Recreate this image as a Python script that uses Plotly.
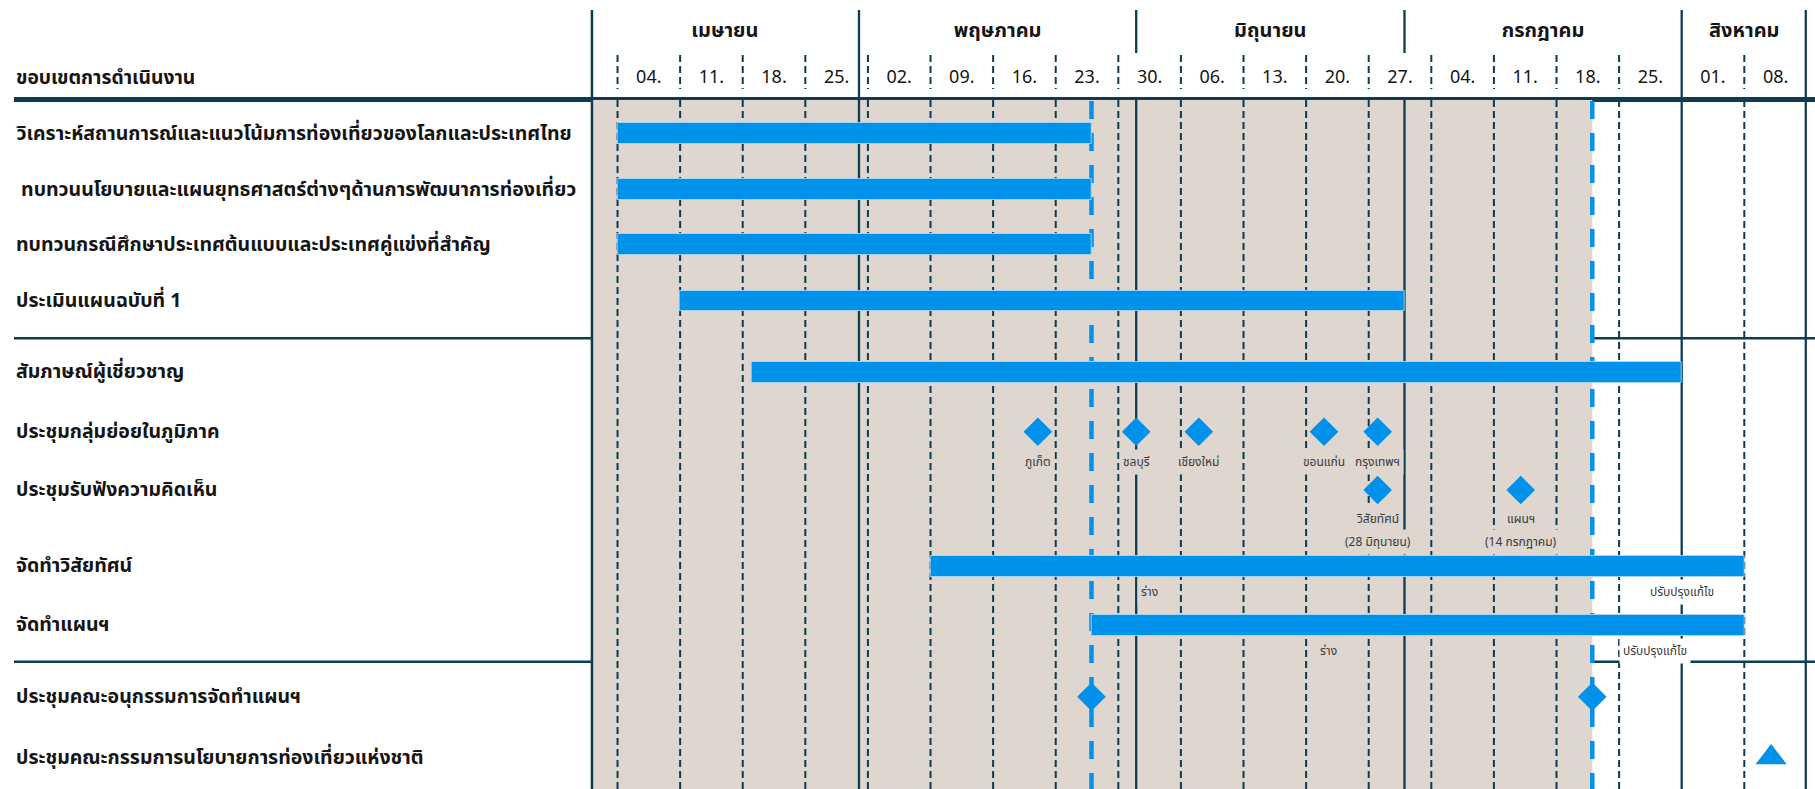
import pandas as pd
import plotly.graph_objects as go

# ---------------- data ----------------
task_names = [
    "วิเคราะห์สถานการณ์และแนวโน้มการท่องเที่ยวของโลกและประเทศไทย",
    " ทบทวนนโยบายและแผนยุทธศาสตร์ต่างๆด้านการพัฒนาการท่องเที่ยว",
    "ทบทวนกรณีศึกษาประเทศต้นแบบและประเทศคู่แข่งที่สำคัญ",
    "ประเมินแผนฉบับที่ 1",
    "สัมภาษณ์ผู้เชี่ยวชาญ",
    "ประชุมกลุ่มย่อยในภูมิภาค",
    "ประชุมรับฟังความคิดเห็น",
    "จัดทำวิสัยทัศน์",
    "จัดทำแผนฯ",
    "ประชุมคณะอนุกรรมการจัดทำแผนฯ",
    "ประชุมคณะกรรมการนโยบายการท่องเที่ยวแห่งชาติ",
]
header_title = "ขอบเขตการดำเนินงาน"

bar_task = [0, 1, 2, 3, 4, 7, 8]
bar_start = ["2022-04-04", "2022-04-04", "2022-04-04", "2022-04-11", "2022-04-19", "2022-05-09", "2022-05-27"]
bar_end = ["2022-05-27", "2022-05-27", "2022-05-27", "2022-07-01", "2022-08-01", "2022-08-08", "2022-08-08"]

region_dates = ["2022-05-21", "2022-06-01", "2022-06-08", "2022-06-22", "2022-06-28"]
region_names = ["ภูเก็ต", "ชลบุรี", "เชียงใหม่", "ขอนแก่น", "กรุงเทพฯ"]

hearing_dates = ["2022-06-28", "2022-07-14"]
hearing_names = ["วิสัยทัศน์", "แผนฯ"]
hearing_sub = ["(28 มิถุนายน)", "(14 กรกฎาคม)"]

subcommittee_dates = ["2022-05-27", "2022-07-22"]
committee_dates = ["2022-08-11"]

note_task = [7, 7, 8, 8]
note_text = ["ร่าง", "ปรับปรุงแก้ไข", "ร่าง", "ปรับปรุงแก้ไข"]
note_dates = ["2022-06-02 12:00", "2022-08-01", "2022-06-22 12:00", "2022-07-29"]

week_dates = pd.date_range("2022-04-04", "2022-08-08", freq="7D")
week_labels = ["04.", "11.", "18.", "25.", "02.", "09.", "16.", "23.", "30.", "06.",
               "13.", "20.", "27.", "04.", "11.", "18.", "25.", "01.", "08."]

month_names = ["เมษายน", "พฤษภาคม", "มิถุนายน", "กรกฎาคม", "สิงหาคม"]
month_starts = ["2022-04-01", "2022-05-01", "2022-06-01", "2022-07-01", "2022-08-01"]

range_start = "2022-04-01"
range_end = "2022-08-15"
progress_date = "2022-07-22"

# ---------------- layout / style ----------------
W, H = 1815, 789
row_y = [133.7, 189.5, 244.8, 301.0, 372.2, 431.7, 490.0, 566.2, 625.3, 696.7, 757.5]
sep_y = [338.3, 661.7]
head_line_y = 99.5
body_top = 100
month_row_y = 32
day_row_y = 78
label_x_px = 14

BLUE = "#0091EA"
NAVY = "#0D3C52"
BEIGE = "#DED6CF"
TXT = "#151515"
NOTE = "#3A3A3A"
FONT = "Noto Sans Thai, Tahoma, Leelawadee UI, Noto Sans, DejaVu Sans, sans-serif"

fig = go.Figure()

# bars
starts = pd.to_datetime(bar_start)
ends = pd.to_datetime(bar_end)
durs = [(e - s).total_seconds() * 1000 for s, e in zip(starts, ends)]
fig.add_trace(go.Bar(
    orientation="h",
    y=[row_y[i] for i in bar_task],
    base=[s.strftime("%Y-%m-%d") for s in starts],
    x=durs,
    width=20.7,
    marker=dict(color=BLUE, line=dict(color="rgba(170,215,245,0.9)", width=1)),
    hoverinfo="skip",
))

# diamonds
dia_x = region_dates + hearing_dates + subcommittee_dates
dia_y = [row_y[5]] * len(region_dates) + [row_y[6]] * len(hearing_dates) + [row_y[9]] * len(subcommittee_dates)
fig.add_trace(go.Scatter(
    x=dia_x, y=dia_y, mode="markers",
    marker=dict(symbol="diamond", size=22, color=BLUE, line=dict(width=0)),
    hoverinfo="skip",
))
# triangle
fig.add_trace(go.Scatter(
    x=committee_dates, y=[row_y[10]] * len(committee_dates), mode="markers",
    marker=dict(symbol="triangle-up", size=27, color=BLUE, line=dict(width=0)),
    hoverinfo="skip",
))

# header day labels
day_x = [d + pd.Timedelta(hours=84) for d in week_dates]
fig.add_trace(go.Scatter(
    x=day_x, y=[day_row_y] * len(day_x), mode="text", text=week_labels,
    textfont=dict(family=FONT, size=18, color=TXT), hoverinfo="skip",
))
# header month labels
ms = pd.to_datetime(month_starts)
me = list(ms[1:]) + [pd.Timestamp(range_end)]
month_x = [s + (e - s) / 2 for s, e in zip(ms, me)]
fig.add_trace(go.Scatter(
    x=month_x, y=[month_row_y] * len(month_x), mode="text", text=month_names,
    textfont=dict(family=FONT, size=20, color=TXT, weight="bold"), hoverinfo="skip",
))

shapes = []
# beige progress area
shapes.append(dict(type="rect", xref="x", yref="y", x0=range_start, x1=progress_date,
                   y0=body_top, y1=H, fillcolor=BEIGE, line=dict(width=0), layer="below"))
# weekly dashed lines
month_set = set(ms)
for d in week_dates:
    if d in month_set:
        continue
    shapes.append(dict(type="line", xref="x", yref="y", x0=d, x1=d, y0=body_top, y1=H,
                       line=dict(color=NAVY, width=2, dash="7px,4px"), layer="below"))
    shapes.append(dict(type="line", xref="x", yref="y", x0=d, x1=d, y0=55, y1=89,
                       line=dict(color=NAVY, width=2, dash="7px,4px"), layer="below"))
# month lines
for i, d in enumerate(ms):
    if i == 0:
        continue
    shapes.append(dict(type="line", xref="x", yref="y", x0=d, x1=d, y0=body_top, y1=H,
                       line=dict(color=NAVY, width=2.3), layer="below"))
    full = d in set(week_dates) or d == pd.Timestamp("2022-05-01")
    shapes.append(dict(type="line", xref="x", yref="y", x0=d, x1=d, y0=10, y1=(body_top if full else 53),
                       line=dict(color=NAVY, width=2.3), layer="below"))
# blue dashed milestone lines
for d in subcommittee_dates:
    shapes.append(dict(type="line", xref="x", yref="y", x0=d, x1=d, y0=body_top + 1, y1=H,
                       line=dict(color=BLUE, width=4.5, dash="18px,14px"), layer="below"))
# borders
shapes.append(dict(type="line", xref="x", yref="y", x0=range_start, x1=range_start, y0=10, y1=H,
                   line=dict(color=NAVY, width=5), layer="below"))
shapes.append(dict(type="line", xref="x", yref="y", x0=range_end, x1=range_end, y0=10, y1=H,
                   line=dict(color=NAVY, width=4.5), layer="below"))
shapes.append(dict(type="line", xref="paper", yref="y", x0=label_x_px / W, x1=1, y0=head_line_y, y1=head_line_y,
                   line=dict(color=NAVY, width=5), layer="below"))
for y in sep_y:
    shapes.append(dict(type="line", xref="paper", yref="y", x0=label_x_px / W, x1=1, y0=y, y1=y,
                       line=dict(color=NAVY, width=2.5), layer="below"))

annotations = []
# task labels
for name, y in zip(task_names, row_y):
    txt = name.replace(" ", "&nbsp;", 1) if name.startswith(" ") else name
    annotations.append(dict(xref="paper", yref="y", x=label_x_px / W, y=y, text=txt,
                            xanchor="left", yanchor="middle", showarrow=False,
                            font=dict(family=FONT, size=19.5, color=TXT, weight="bold")))
annotations.append(dict(xref="paper", yref="y", x=label_x_px / W, y=day_row_y, text=header_title,
                        xanchor="left", yanchor="middle", showarrow=False,
                        font=dict(family=FONT, size=19.3, color=TXT, weight="bold")))


def bg_for(d):
    return BEIGE if pd.Timestamp(d) <= pd.Timestamp(progress_date) else "white"


def note(x, y, t):
    annotations.append(dict(xref="x", yref="y", x=x, y=y, text=t, showarrow=False,
                            xanchor="center", yanchor="middle", bgcolor=bg_for(x), borderpad=3,
                            font=dict(family=FONT, size=12, color=NOTE)))


for d, t in zip(region_dates, region_names):
    note(d, row_y[5] + 30, t)
for d, t, s in zip(hearing_dates, hearing_names, hearing_sub):
    note(d, row_y[6] + 29.3, t)
    note(d, row_y[6] + 51.7, s)
for i, t, d in zip(note_task, note_text, note_dates):
    note(d, row_y[i] + 25.3, t)

fig.update_layout(
    width=W, height=H,
    margin=dict(l=0, r=0, t=0, b=0),
    paper_bgcolor="white", plot_bgcolor="white",
    showlegend=False,
    xaxis=dict(type="date", range=[range_start, range_end], domain=[590.7 / W, 1806.9 / W],
               visible=False, showgrid=False, zeroline=False, fixedrange=True),
    yaxis=dict(range=[H, 0], domain=[0, 1], visible=False, showgrid=False, zeroline=False, fixedrange=True),
    shapes=shapes,
    annotations=annotations,
    bargap=0,
    font=dict(family=FONT),
)

fig.write_html("out.html", config={"displayModeBar": False},
               post_script="document.body.style.margin='0';document.body.style.overflow='hidden';")
